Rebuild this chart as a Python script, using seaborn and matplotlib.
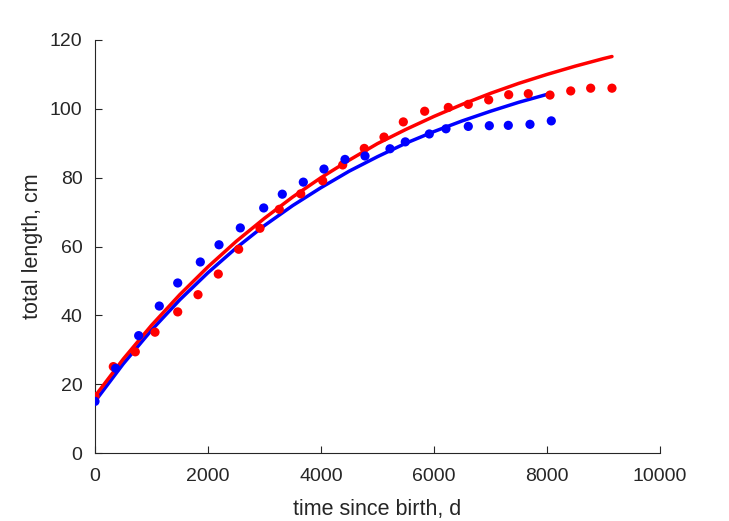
import matplotlib
matplotlib.use("Agg")
import matplotlib.pyplot as plt
import seaborn as sns
import pandas as pd

# observed data: time since birth (d), total length (cm)
blue_t = [0, 366, 773, 1138, 1464, 1864, 2195, 2572, 2986, 3315, 3687, 4053,
          4425, 4779, 5221, 5492, 5917, 6212, 6607, 6979, 7315, 7699, 8076]
blue_L = [15.0, 24.6, 34.1, 42.7, 49.4, 55.5, 60.5, 65.4, 71.2, 75.2, 78.7, 82.5,
          85.3, 86.3, 88.4, 90.4, 92.7, 94.2, 94.9, 95.1, 95.2, 95.5, 96.5]

red_t = [0, 324, 713, 1062, 1464, 1823, 2182, 2543, 2920, 3262, 3641, 4030, 4384,
         4766, 5115, 5457, 5835, 6253, 6607, 6968, 7322, 7669, 8053, 8420, 8773, 9150]
red_L = [16.4, 25.1, 29.4, 35.1, 41.0, 46.0, 52.0, 59.2, 65.3, 70.8, 75.3, 79.1, 83.7,
         88.5, 91.8, 96.2, 99.3, 100.4, 101.3, 102.6, 104.1, 104.4, 104.0, 105.2, 106.0, 106.0]

# fitted curves
blue_fit_t = [0, 500, 1000, 1500, 2000, 2500, 3000, 3500, 4000, 4500, 5000, 5500,
              6000, 6500, 7000, 7500, 8000, 8050]
blue_fit_L = [15.0, 25.9, 35.7, 44.5, 52.4, 59.6, 66.1, 71.9, 77.1, 81.9, 86.1, 90.0,
              93.4, 96.5, 99.3, 101.9, 104.2, 104.4]

red_fit_t = [0, 500, 1000, 1500, 2000, 2500, 3000, 3500, 4000, 4500, 5000, 5500,
             6000, 6500, 7000, 7500, 8000, 8500, 9000, 9150]
red_fit_L = [16.5, 27.3, 37.1, 46.0, 54.1, 61.5, 68.2, 74.4, 80.0, 85.1, 89.9, 94.0,
             97.8, 101.3, 104.5, 107.4, 110.0, 112.4, 114.6, 115.2]

x_ticks = [0, 2000, 4000, 6000, 8000, 10000]
y_ticks = [0, 20, 40, 60, 80, 100, 120]

sns.set_theme(style="ticks")
plt.rcParams['font.family'] = ['Liberation Sans', 'DejaVu Sans']
dark = "#262626"

fig = plt.figure(figsize=(7.29, 5.21), dpi=100)
ax = fig.add_axes([95/729, 68/521, 565/729, 413/521])

sns.lineplot(x=blue_fit_t, y=blue_fit_L, ax=ax, color=(0, 0, 1), lw=2.5, sort=False)
sns.lineplot(x=red_fit_t, y=red_fit_L, ax=ax, color=(1, 0, 0), lw=2.5, sort=False)
sns.scatterplot(x=red_t, y=red_L, ax=ax, color=(1, 0, 0), s=44, edgecolor="none", zorder=3)
sns.scatterplot(x=blue_t, y=blue_L, ax=ax, color=(0, 0, 1), s=44, edgecolor="none", zorder=3)

ax.set_xlim(0, 10000)
ax.set_ylim(0, 120)
ax.set_xticks(x_ticks)
ax.set_yticks(y_ticks)
ax.set_xticklabels([str(v) for v in x_ticks])
ax.set_yticklabels([str(v) for v in y_ticks])
ax.tick_params(direction="in", length=5, width=0.8, colors=dark, labelsize=14)
ax.tick_params(axis="x", pad=11)
ax.tick_params(axis="y", pad=9)
for s in ["top", "right"]:
    ax.spines[s].set_visible(False)
for s in ["left", "bottom"]:
    ax.spines[s].set_color(dark)
    ax.spines[s].set_linewidth(0.8)
ax.set_xlabel("time since birth, d", fontsize=15.5, color=dark, labelpad=10)
ax.set_ylabel("total length, cm", fontsize=15.5, color=dark, labelpad=5)

fig.savefig("out.png", dpi=100)
